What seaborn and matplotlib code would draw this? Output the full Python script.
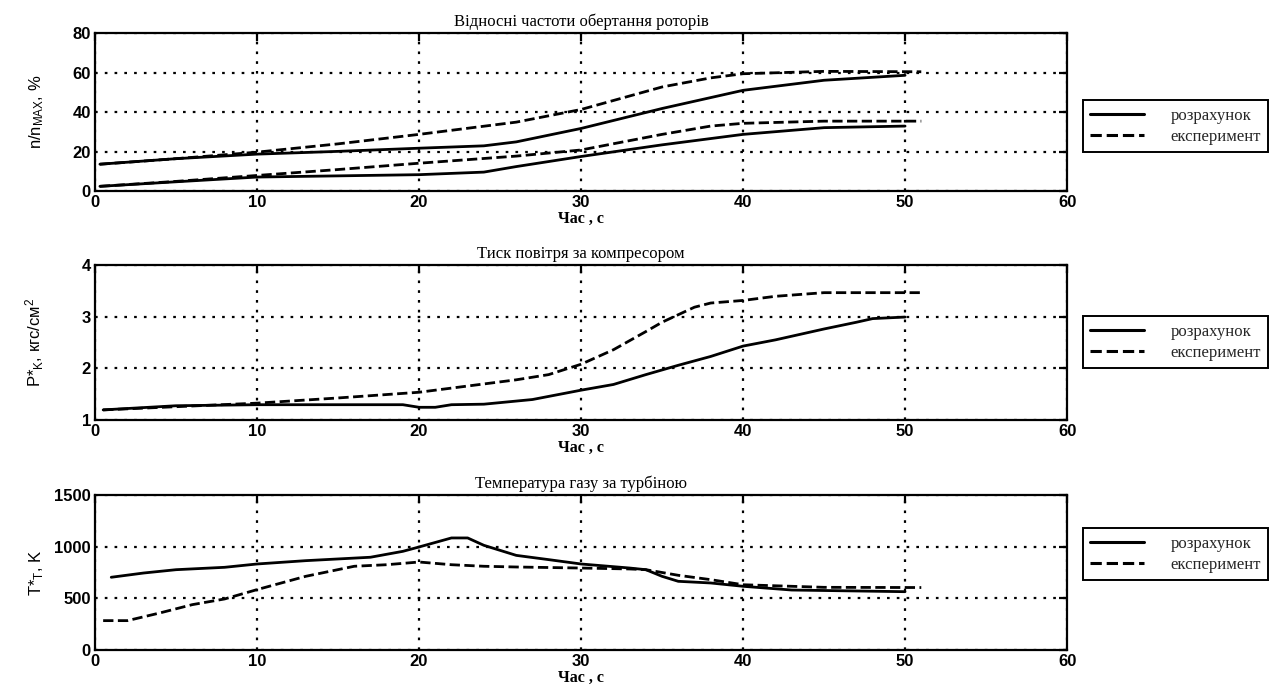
import numpy as np
import pandas as pd
import matplotlib
matplotlib.use("Agg")
import matplotlib.pyplot as plt
import seaborn as sns
from matplotlib.lines import Line2D

sns.set_theme(style="white")
plt.rcParams["font.family"] = ["Liberation Sans", "DejaVu Sans"]
plt.rcParams["mathtext.fontset"] = "custom"
plt.rcParams["mathtext.rm"] = "Liberation Sans"
plt.rcParams["mathtext.it"] = "Liberation Sans"

# --- Rotor relative speeds, % of n_max ---
t_n_high_calc = [0.3, 5, 10, 15, 20, 24, 26, 30, 35, 40, 45, 50]
n_high_calc = [13.7, 16.5, 18.8, 20.2, 21.8, 23.0, 25.0, 31.8, 41.9, 51.1, 56.2, 58.7]
t_n_high_exp = [0.3, 5, 10, 15, 20, 26, 30, 35, 38, 40, 45, 51]
n_high_exp = [13.7, 16.5, 19.8, 24.0, 28.8, 35.0, 41.4, 52.8, 57.4, 59.5, 60.7, 60.5]
t_n_low_calc = [0.3, 5, 10, 15, 20, 24, 26, 30, 35, 40, 45, 50]
n_low_calc = [2.5, 4.8, 7.2, 7.8, 8.4, 9.7, 12.5, 17.6, 23.5, 28.8, 32.2, 33.0]
t_n_low_exp = [0.3, 5, 10, 15, 20, 26, 30, 35, 38, 40, 45, 51]
n_low_exp = [2.5, 5.0, 8.0, 11.0, 14.2, 17.8, 20.9, 28.8, 33.0, 34.4, 35.5, 35.5]

# --- Compressor delivery pressure, kgf/cm^2 ---
t_p_calc = [0.5, 5, 10, 19, 20, 21, 22, 24, 27, 30, 32, 34, 36, 38, 40, 42, 45, 47, 48, 50]
p_calc = [1.20, 1.28, 1.30, 1.30, 1.25, 1.25, 1.30, 1.31, 1.40, 1.58, 1.69, 1.88, 2.06,
          2.23, 2.43, 2.55, 2.76, 2.89, 2.96, 2.99]
t_p_exp = [0.5, 10, 15, 20, 26, 28, 30, 32, 34, 35, 37, 38, 40, 42, 45, 51]
p_exp = [1.20, 1.33, 1.43, 1.54, 1.78, 1.88, 2.08, 2.36, 2.71, 2.89, 3.18, 3.26, 3.31,
         3.39, 3.46, 3.46]

# --- Gas temperature after turbine, K ---
t_T_calc = [1, 3, 5, 8, 10, 13, 17, 19, 20, 22, 23, 24, 26, 28, 30, 33, 34, 35, 36, 38,
            40, 43, 50]
T_calc = [704, 745, 777, 800, 832, 864, 897, 954, 996, 1083, 1083, 1012, 915, 874, 832,
          793, 777, 713, 665, 649, 617, 581, 565]
t_T_exp = [0.5, 2, 4, 6, 8, 10, 13, 16, 18, 20, 22, 24, 26, 30, 33, 34, 36, 38, 40, 43,
           45, 51]
T_exp = [286, 286, 360, 440, 495, 585, 713, 810, 825, 851, 825, 810, 803, 793, 784, 777,
         723, 681, 632, 617, 607, 605]

panel_titles = ["Відносні частоти обертання роторів",
                "Тиск повітря за компресором",
                "Температура газу за турбіною"]
y_labels = [r"n/n$_{\mathrm{MAX}}$, %",
            r"P*$_{\mathrm{K}}$, кгс/см$^{2}$",
            r"T*$_{\mathrm{T}}$, K"]
x_label = "Час , с"
legend_labels = ["розрахунок", "експеримент"]
x_ticks = [0, 10, 20, 30, 40, 50, 60]
y_ticks = [[0, 20, 40, 60, 80], [1, 2, 3, 4], [0, 500, 1000, 1500]]

panels = [
    [(t_n_high_calc, n_high_calc, "-"), (t_n_high_exp, n_high_exp, "--"),
     (t_n_low_calc, n_low_calc, "-"), (t_n_low_exp, n_low_exp, "--")],
    [(t_p_calc, p_calc, "-"), (t_p_exp, p_exp, "--")],
    [(t_T_calc, T_calc, "-"), (t_T_exp, T_exp, "--")],
]

fig = plt.figure(figsize=(12.81, 6.91), dpi=100)
ax_rects = [
    [0.0742, 0.7232, 0.7588, 0.2287],
    [0.0742, 0.3918, 0.7588, 0.2252],
    [0.0742, 0.0589, 0.7588, 0.2252],
]
legend_centers = [0.8170, 0.5050, 0.1980]

serif = ["Liberation Serif", "DejaVu Serif"]

for i, rect in enumerate(ax_rects):
    ax = fig.add_axes(rect)
    for tx, vals, ls in panels[i]:
        sns.lineplot(x=tx, y=vals, ax=ax, color="black", linewidth=2.0,
                     linestyle=ls, estimator=None, sort=False)
    ax.set_xlim(0, 60)
    ax.set_ylim(y_ticks[i][0], y_ticks[i][-1])
    ax.set_xticks(x_ticks)
    ax.set_yticks(y_ticks[i])
    ax.grid(True, color="black", linestyle=(0, (1.2, 3.2)), linewidth=1.6)
    ax.tick_params(axis="both", direction="in", length=6, width=1.6,
                   top=True, right=True, labelsize=12, pad=3, colors="black")
    for lab in ax.get_xticklabels() + ax.get_yticklabels():
        lab.set_fontweight("bold")
    for s in ax.spines.values():
        s.set_color("black")
        s.set_linewidth(1.6)
        s.set_visible(True)
    ax.set_title(panel_titles[i], fontsize=12, family=serif, pad=5, color="black")
    ax.set_xlabel(x_label, fontsize=11.5, family=serif, fontweight="bold", labelpad=0,
                  color="black")
    ax.set_ylabel(y_labels[i], fontsize=12, color="black")
    ax.yaxis.set_label_coords(0.036, rect[1] + rect[3] / 2,
                              transform=fig.transFigure)
    handles = [Line2D([0], [0], color="black", lw=2.2, ls="-"),
               Line2D([0], [0], color="black", lw=2.2, ls="--")]
    fig.legend(handles, legend_labels, loc="center left",
               bbox_to_anchor=(0.8454, legend_centers[i]), borderaxespad=0,
               prop={"family": serif, "size": 12}, frameon=True, fancybox=False,
               edgecolor="black", framealpha=1, handlelength=3.2,
               borderpad=0.45, labelspacing=0.3, handletextpad=1.6)
    fig.legends[-1].get_frame().set_linewidth(1.4)

fig.savefig("out.png", dpi=100, facecolor="white")
